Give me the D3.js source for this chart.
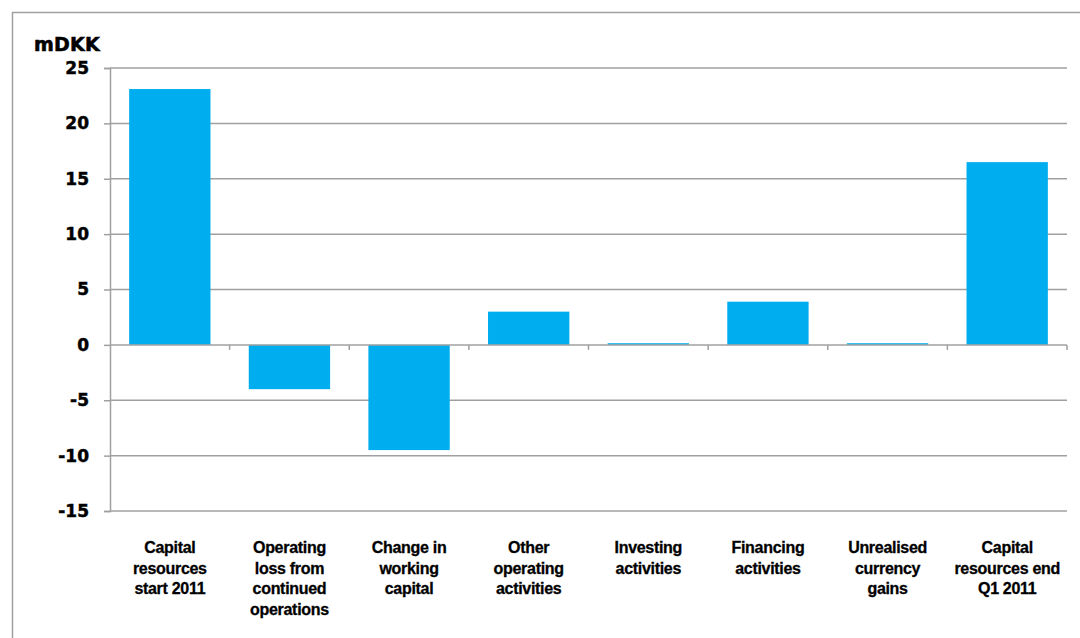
<!DOCTYPE html>
<html>
<head>
<meta charset="utf-8">
<script src="https://cdn.jsdelivr.net/npm/d3@7"></script>
<style>
  html, body { margin: 0; padding: 0; background: #fff; overflow: hidden; }
  svg { display: block; font-family: "Liberation Sans", Arial, sans-serif; font-weight: bold; }
</style>
</head>
<body>
<svg id="chart" width="1080" height="638"></svg>
<script>
// Cash flow bridge, mDKK
const categories = [
  ["Capital", "resources", "start 2011"],
  ["Operating", "loss from", "continued", "operations"],
  ["Change in", "working", "capital"],
  ["Other", "operating", "activities"],
  ["Investing", "activities"],
  ["Financing", "activities"],
  ["Unrealised", "currency", "gains"],
  ["Capital", "resources end", "Q1 2011"]
];
const values = [23.1, -4.0, -9.5, 3.0, 0.15, 3.9, 0.15, 16.5];
const yTicks = [-15, -10, -5, 0, 5, 10, 15, 20, 25];
const unitLabel = "mDKK";

const svg = d3.select("#chart");
const W = 1080, H = 638;
const plot = { left: 110, right: 1067, top: 68, bottom: 511 };
const grey = "#a0a0a0";
const barColor = "#00aeef";
const wideFont = "'DejaVu Sans', Verdana, sans-serif";

// outer frame (extends past the right and bottom edges)
svg.append("rect")
  .attr("x", 12.5).attr("y", 12.5)
  .attr("width", W).attr("height", H)
  .attr("fill", "none").attr("stroke", grey).attr("stroke-width", 1.5);

const keys = categories.map((c, i) => i);
const x = d3.scaleBand().domain(keys).range([plot.left, plot.right]).paddingInner(0.32).paddingOuter(0.16);
const xb = d3.scaleBand().domain(keys).range([plot.left, plot.right]);
const y = d3.scaleLinear().domain([-15, 25]).range([plot.bottom, plot.top]);

// horizontal gridlines
svg.append("g").selectAll("line").data(yTicks.filter(t => t !== 0)).join("line")
  .attr("x1", plot.left).attr("x2", plot.right)
  .attr("y1", d => y(d)).attr("y2", d => y(d))
  .attr("stroke", grey).attr("stroke-width", 1.5);

// bars
svg.append("g").selectAll("rect").data(values).join("rect")
  .attr("x", (d, i) => x(i))
  .attr("width", x.bandwidth())
  .attr("y", d => y(Math.max(0, d)))
  .attr("height", d => Math.abs(y(d) - y(0)))
  .attr("fill", barColor);

// y axis
const yAxis = d3.axisLeft(y).tickValues(yTicks).tickSize(6).tickPadding(15)
  .tickFormat(d => d < 0 ? "-" + Math.abs(d) : String(d));
const gy = svg.append("g").attr("transform", `translate(${plot.left},0)`).call(yAxis);
gy.selectAll("path, line").attr("stroke", grey).attr("stroke-width", 1.5);
gy.selectAll("text").attr("fill", "#000")
  .attr("stroke", "#000").attr("stroke-width", 0.5)
  .style("font-size", "17px").style("font-weight", "bold")
  .style("font-family", wideFont);

// zero baseline with category boundary ticks
const gx = svg.append("g");
gx.append("line")
  .attr("x1", plot.left).attr("x2", plot.right)
  .attr("y1", y(0)).attr("y2", y(0))
  .attr("stroke", grey).attr("stroke-width", 1.5);
gx.selectAll("line.tick").data(keys.map(k => xb(k) + xb.bandwidth())).join("line")
  .attr("class", "tick")
  .attr("x1", d => d).attr("x2", d => d)
  .attr("y1", y(0)).attr("y2", y(0) + 5)
  .attr("stroke", grey).attr("stroke-width", 1.5);

// category labels
const lab = svg.append("g").selectAll("text").data(categories).join("text")
  .attr("x", (d, i) => xb(i) + xb.bandwidth() / 2)
  .attr("y", 553)
  .attr("text-anchor", "middle")
  .style("font-size", "16px")
  .style("letter-spacing", "-0.3px")
  .attr("fill", "#000")
  .attr("stroke", "#000").attr("stroke-width", 0.3);
lab.selectAll("tspan").data(d => d).join("tspan")
  .attr("x", function () { return d3.select(this.parentNode).attr("x"); })
  .attr("dy", (d, i) => i === 0 ? 0 : 20.5)
  .text(d => d);

// unit label
svg.append("text")
  .attr("x", 34).attr("y", 51)
  .style("font-size", "19px")
  .style("font-family", wideFont)
  .style("letter-spacing", "0.2px")
  .attr("fill", "#000")
  .attr("stroke", "#000").attr("stroke-width", 0.6)
  .text(unitLabel);
</script>
</body>
</html>
